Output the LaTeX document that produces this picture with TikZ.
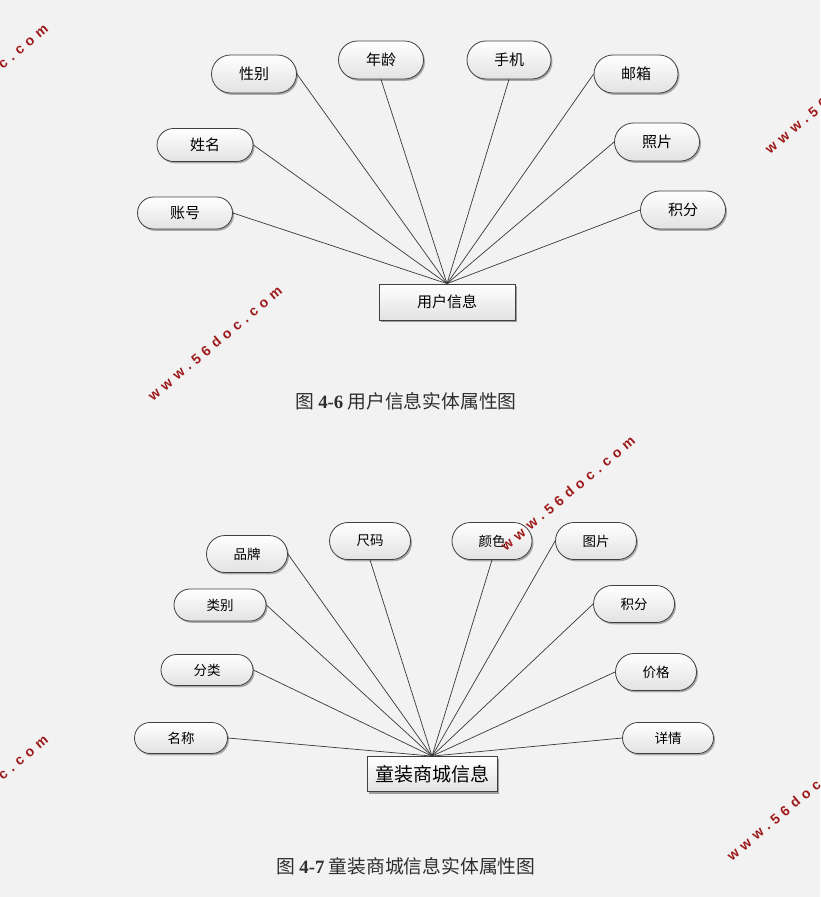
\documentclass[tikz,border=0pt]{standalone}
\usepackage{fontspec}
\setmainfont{Noto Sans CJK SC}
\newfontfamily\numfont{Liberation Serif}
\newfontfamily\wmfont[LetterSpace=36]{Liberation Sans}
\usetikzlibrary{shadows}
\definecolor{bg}{HTML}{F2F2F2}
\definecolor{edgegray}{HTML}{383838}
\definecolor{bordergray}{HTML}{404040}
\definecolor{shadegray}{HTML}{E2E2E2}
\definecolor{wmred}{HTML}{9E1A1A}
\definecolor{captext}{HTML}{2E2E2E}
\tikzset{
  attrbox/.style 2 args={draw=bordergray, line width=0.8pt, top color=white, bottom color=shadegray,
    minimum width=#1, minimum height=#2, rounded corners=0.5*#2, inner sep=0pt,
    drop shadow={shadow xshift=1.5pt, shadow yshift=-1.8pt, opacity=0.3, fill=black}},
  lbl1/.style={font=\fontsize{15}{15}\selectfont},
  lbl2/.style={font=\fontsize{13.5}{13.5}\selectfont},
  entbox/.style 2 args={draw=bordergray, line width=0.8pt, top color=white, bottom color=shadegray,
    minimum width=#1, minimum height=#2, inner sep=0pt,
    drop shadow={shadow xshift=2pt, shadow yshift=-2pt, opacity=0.35, fill=black}},
  link/.style={draw=edgegray, line width=0.7pt},
  caption/.style={font=\fontsize{18.8}{18.8}\selectfont, text=captext},
  wm/.style={font=\wmfont\bfseries\fontsize{14}{14}\selectfont, text=wmred, rotate=40}
}
\begin{document}
\begin{tikzpicture}[x=1pt,y=-1pt]
\useasboundingbox (0,0) rectangle (820,897);
\fill[bg] (0,0) rectangle (820,897);

% ---------- Diagram 1 ----------
\node[entbox={136}{36}, font=\fontsize{15}{15}\selectfont] (user) at (447,302) {用户信息};
\node[attrbox={85}{38}, lbl1] (xb) at (254,74) {性别};
\node[attrbox={85}{38}, lbl1] (nl) at (381,60) {年龄};
\node[attrbox={84}{38}, lbl1] (sj) at (509,60) {手机};
\node[attrbox={84}{38}, lbl1] (yx) at (636,74) {邮箱};
\node[attrbox={96}{33}, lbl1] (xm) at (205,145) {姓名};
\node[attrbox={85}{38}, lbl1] (zp) at (657,142) {照片};
\node[attrbox={95}{32}, lbl1] (zh) at (185,213) {账号};
\node[attrbox={85}{38}, lbl1] (jf) at (683,210) {积分};

\coordinate (hub1) at (user.north);
\draw[link] (xb.east) -- (hub1);
\draw[link] (nl.south) -- (hub1);
\draw[link] (sj.south) -- (hub1);
\draw[link] (yx.west) -- (hub1);
\draw[link] (xm.east) -- (hub1);
\draw[link] (zp.west) -- (hub1);
\draw[link] (zh.east) -- (hub1);
\draw[link] (jf.west) -- (hub1);

\node[caption] (cap1) at (406,401) {图 {\numfont\bfseries 4-6} 用户信息实体属性图};

% ---------- Diagram 2 ----------
\node[entbox={130}{35}, font=\fontsize{19}{19}\selectfont] (shop) at (432,774) {童装商城信息};
\node[attrbox={81}{37}, lbl2] (pp) at (247,554) {品牌};
\node[attrbox={81}{37}, lbl2] (cm) at (370,541) {尺码};
\node[attrbox={80}{37}, lbl2] (ys) at (492,541) {颜色};
\node[attrbox={81}{37}, lbl2] (tp) at (596,541) {图片};
\node[attrbox={92}{32}, lbl2] (lb) at (220,605) {类别};
\node[attrbox={81}{37}, lbl2] (jf2) at (634,604) {积分};
\node[attrbox={92}{31}, lbl2] (fl) at (207,670) {分类};
\node[attrbox={81}{37}, lbl2] (jg) at (656,672) {价格};
\node[attrbox={93}{31}, lbl2] (mc) at (181,738) {名称};
\node[attrbox={91}{31}, lbl2] (xq) at (668,738) {详情};

\coordinate (hub2) at (shop.north);
\draw[link] (pp.east) -- (hub2);
\draw[link] (cm.south) -- (hub2);
\draw[link] (ys.south) -- (hub2);
\draw[link] (tp.west) -- (hub2);
\draw[link] (lb.east) -- (hub2);
\draw[link] (jf2.west) -- (hub2);
\draw[link] (fl.east) -- (hub2);
\draw[link] (jg.west) -- (hub2);
\draw[link] (mc.east) -- (hub2);
\draw[link] (xq.west) -- (hub2);

\node[caption] (cap2) at (406,866) {图 {\numfont\bfseries 4-7} 童装商城信息实体属性图};

% ---------- Watermarks ----------
\begin{scope}
\clip (0,0) rectangle (820,897);
\node[wm] (wm1) at (215,343) {www.56doc.com};
\node[wm] (wm2) at (-19,81) {www.56doc.com};
\node[wm] (wm3) at (832,96) {www.56doc.com};
\node[wm] (wm4) at (568,493) {www.56doc.com};
\node[wm] (wm5) at (-19,792) {www.56doc.com};
\node[wm] (wm6) at (794,803) {www.56doc.com};
\end{scope}
\end{tikzpicture}
\end{document}
